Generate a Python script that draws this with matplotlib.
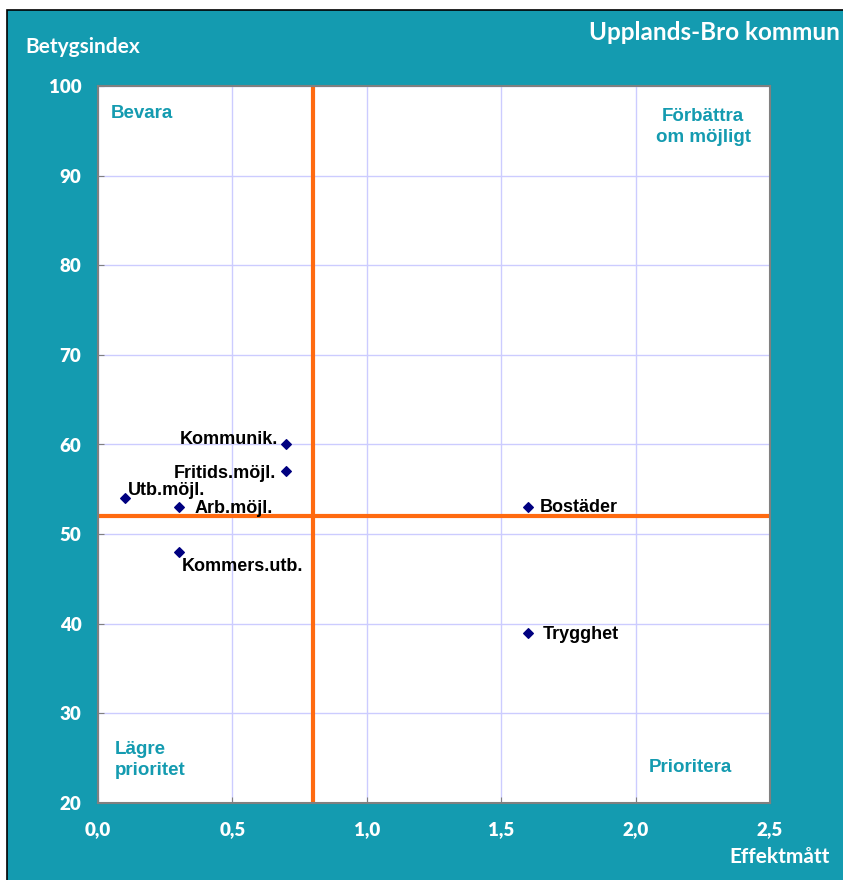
import matplotlib.pyplot as plt
from matplotlib.patches import Rectangle

# data
labels = ['Kommunik.', 'Fritids.möjl.', 'Utb.möjl.', 'Arb.möjl.', 'Kommers.utb.', 'Bostäder', 'Trygghet']
effekt = [0.7, 0.7, 0.1, 0.3, 0.3, 1.6, 1.6]
betyg = [60, 57, 54, 53, 48, 53, 39]
# label offsets in pixels (dx, dy, ha)
offsets = [(-8, 5, 'right'), (-10, -2, 'right'), (3, 8, 'left'), (16, -1, 'left'),
           (3, -14, 'left'), (12, 0, 'left'), (15, -2, 'left')]
x_split = 0.8
y_split = 52
xticks = [0.0, 0.5, 1.0, 1.5, 2.0, 2.5]
xticklabels = ['0,0', '0,5', '1,0', '1,5', '2,0', '2,5']
yticks = [20, 30, 40, 50, 60, 70, 80, 90, 100]

teal = '#149bb0'
navy = '#000080'
orange = '#ff6a10'
cond = ['Lato', 'DejaVu Sans']
arial = ['Liberation Sans', 'DejaVu Sans']

fig = plt.figure(figsize=(8.43, 8.80), dpi=100)
fig.patch.set_facecolor('white')
bg = Rectangle((7/843, -0.01), 1.0, (880-10)/880 + 0.01, transform=fig.transFigure,
               facecolor=teal, edgecolor='black', linewidth=1.2, zorder=-10)
fig.patches.append(bg)

ax = fig.add_axes([98/843, 77/880, 672/843, 717/880])
ax.set_zorder(1)
ax.set_facecolor('white')
ax.set_xlim(0, 2.5)
ax.set_ylim(20, 100)
ax.set_xticks(xticks)
ax.set_xticklabels(xticklabels)
ax.set_yticks(yticks)
ax.grid(True, color='#ccccff', linewidth=1)
ax.set_axisbelow(True)
for s in ax.spines.values():
    s.set_color('#808080')
    s.set_linewidth(1.5)
ax.tick_params(direction='in', length=4, color='#808080', labelcolor='white', labelsize=13.5)
for t in ax.get_xticklabels() + ax.get_yticklabels():
    t.set_fontfamily(cond)
    t.set_fontweight('heavy')
ax.tick_params(axis='x', pad=13)
ax.tick_params(axis='y', pad=12)

ax.axvline(x_split, color=orange, linewidth=3, zorder=2)
ax.axhline(y_split, color=orange, linewidth=3, zorder=2)

ax.scatter(effekt, betyg, marker='D', s=24, color=navy, zorder=3)
for lab, x, y, (dx, dy, ha) in zip(labels, effekt, betyg, offsets):
    ax.annotate(lab, (x, y), xytext=(dx, dy), textcoords='offset pixels', ha=ha, va='center',
                fontsize=13, fontweight='bold', family=arial, color='black', zorder=4)

qkw = dict(fontsize=13.5, fontweight='bold', family=arial, color=teal, transform=ax.transAxes)
ax.text(13/672, 1 - 28/717, 'Bevara', ha='left', va='center', **qkw)
ax.text(605/672, 1 - 41/717, 'Förbättra\nom möjligt', ha='center', va='center', linespacing=1.25, **qkw)
ax.text(17/672, 43/717, 'Lägre\nprioritet', ha='left', va='center', linespacing=1.25, **qkw)
ax.text(592/672, 36/717, 'Prioritera', ha='center', va='center', **qkw)

fig.text(840/843, 1 - 33/880, 'Upplands-Bro kommun', ha='right', va='center', fontsize=17.5,
         fontweight='bold', family=cond, color='white')
fig.text(25/843, 1 - 47/880, 'Betygsindex', ha='left', va='center', fontsize=15,
         fontweight='bold', family=cond, color='white')
fig.text(830/843, 1 - 857/880, 'Effektmått', ha='right', va='center', fontsize=15,
         fontweight='bold', family=cond, color='white')

fig.savefig('out.png', dpi=100, facecolor=fig.get_facecolor())
